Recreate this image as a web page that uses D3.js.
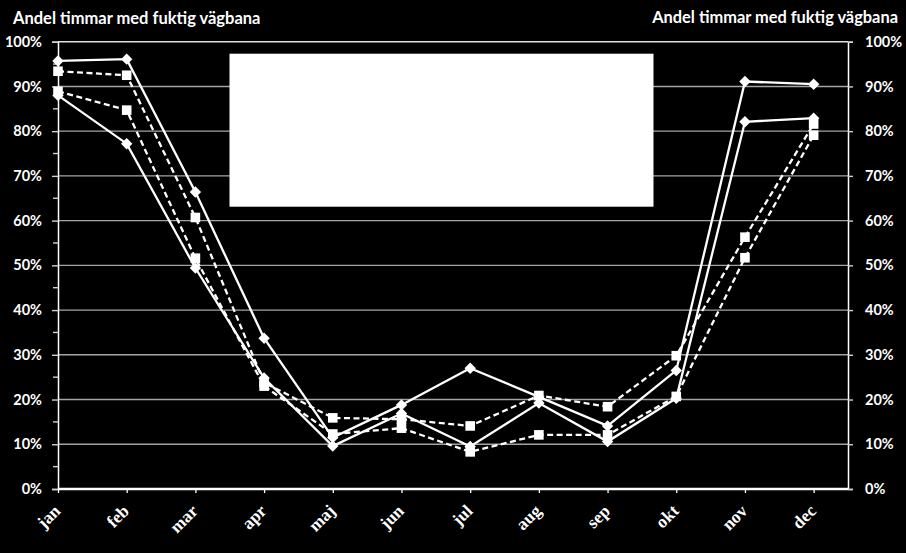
<!DOCTYPE html>
<html><head><meta charset="utf-8">
<script src="https://cdn.jsdelivr.net/npm/d3@7"></script>
<style>html,body{margin:0;padding:0;background:#000;}svg{display:block;}</style>
</head><body>
<svg id="c" width="906" height="553"></svg>
<script>
const months = ["jan","feb","mar","apr","maj","jun","jul","aug","sep","okt","nov","dec"];
const seriesA = [95.7, 96.1, 66.4, 33.7, 11.5, 18.8, 27.0, 20.6, 14.1, 26.5, 91.1, 90.5]; // solid, diamond
const seriesB = [88.0, 77.2, 49.4, 24.8,  9.6, 16.9,  9.5, 19.2, 10.6, 20.3, 82.1, 82.9]; // solid, diamond
const seriesC = [93.4, 92.5, 60.7, 23.8, 15.9, 15.6, 14.1, 20.9, 18.4, 29.8, 56.3, 81.6]; // dashed, square
const seriesD = [88.9, 84.7, 51.6, 23.0, 12.3, 13.6,  8.3, 12.1, 12.1, 20.7, 51.7, 79.1]; // dashed, square
const yTicks = [0,10,20,30,40,50,60,70,80,90,100];
const yMinor = [5,15,25,35,45,55,65,75,85,95];
const titleText = "Andel timmar med fuktig vägbana";

const series = [
  {values: seriesC, dash: "6,3.5", marker: "square"},
  {values: seriesD, dash: "6,3.5", marker: "square"},
  {values: seriesA, dash: null, marker: "diamond"},
  {values: seriesB, dash: null, marker: "diamond"}
];

const svg = d3.select("#c");
const pL = 58, pR = 848, pT = 41.7, pB = 489;
const step = (pR - pL) / 11.5;
const x = d3.scalePoint().domain(months).range([pL, pL + 11 * step]);
const y = d3.scaleLinear().domain([0, 100]).range([pB, pT]);

svg.append("rect").attr("width",906).attr("height",553).attr("fill","#000");

// gridlines
svg.append("g").selectAll("line").data(yTicks.filter(d => d > 0)).join("line")
  .attr("x1", pL).attr("x2", pR)
  .attr("y1", d => y(d)).attr("y2", d => y(d))
  .attr("stroke", d => d === 100 ? "#e0e0e0" : "#a4a4a4").attr("stroke-width", 1.4);

// left axis
const axL = svg.append("g").attr("transform", `translate(${pL},0)`)
  .call(d3.axisLeft(y).tickValues(yTicks).tickFormat(d => d + "%").tickSize(6).tickPadding(10));
axL.select(".domain").attr("stroke", "#fff").attr("stroke-width", 1.5);
axL.selectAll(".tick line").attr("stroke", "#d0d0d0").attr("stroke-width", 1.4);
axL.selectAll(".tick text").attr("fill", "#fff").attr("font-family", "Lato, sans-serif")
  .attr("font-weight", "bold").attr("font-size", "14.5px");
svg.append("g").selectAll("line").data(yMinor).join("line")
  .attr("x1", pL - 5).attr("x2", pL).attr("y1", d => y(d)).attr("y2", d => y(d))
  .attr("stroke", "#d0d0d0").attr("stroke-width", 1.4);

// right axis
const axR = svg.append("g").attr("transform", `translate(${pR},0)`)
  .call(d3.axisRight(y).tickValues(yTicks).tickFormat(d => d + "%").tickSize(5).tickPadding(12));
axR.select(".domain").attr("stroke", "#fff").attr("stroke-width", 1.5);
axR.selectAll(".tick line").attr("stroke", "#d0d0d0").attr("stroke-width", 1.4);
axR.selectAll(".tick text").attr("fill", "#fff").attr("font-family", "Lato, sans-serif")
  .attr("font-weight", "bold").attr("font-size", "14.5px");

// bottom axis
const axB = svg.append("g").attr("transform", `translate(0,${pB})`)
  .call(d3.axisBottom(x).tickSize(4).tickSizeOuter(0));
axB.select(".domain").attr("d", `M${pL},0H${pR}`).attr("stroke", "#fff").attr("stroke-width", 2.6);
axB.selectAll(".tick line").attr("stroke", "#fff").attr("stroke-width", 1.3);
axB.selectAll(".tick text")
  .attr("fill", "#fff").attr("font-family", "'Liberation Serif', serif").attr("font-weight", "bold")
  .attr("font-size", "17.5px").attr("text-anchor", "end").attr("dy", null).attr("y", 0)
  .attr("transform", "translate(3,23) rotate(-45)");

// white box (covered legend)
svg.append("rect").attr("x", 229.5).attr("y", 53.7).attr("width", 424).attr("height", 153).attr("fill", "#fff");

// lines
const line = d3.line().x((d, i) => x(months[i])).y(d => y(d));
const g = svg.append("g");
series.forEach(s => {
  g.append("path").attr("d", line(s.values)).attr("fill", "none")
    .attr("stroke", "#fff").attr("stroke-width", 2.3)
    .attr("stroke-dasharray", s.dash);
});
series.forEach(s => {
  const m = g.append("g").selectAll("path").data(s.values).join("path")
    .attr("transform", (d, i) => `translate(${x(months[i])},${y(d)})`)
    .attr("fill", "#fff");
  if (s.marker === "diamond") m.attr("d", "M0,-5.7L5.7,0L0,5.7L-5.7,0Z");
  else m.attr("d", "M-4.8,-4.8H4.8V4.8H-4.8Z");
});

// titles
svg.append("text").attr("x", 13).attr("y", 24).text(titleText)
  .attr("fill", "#fff").attr("font-family", "Lato, sans-serif").attr("font-weight", "bold").attr("font-size", "16.5px");
svg.append("text").attr("x", 898).attr("y", 23).attr("text-anchor", "end").text(titleText)
  .attr("fill", "#fff").attr("font-family", "Lato, sans-serif").attr("font-weight", "bold").attr("font-size", "16.4px");
</script>
</body></html>
